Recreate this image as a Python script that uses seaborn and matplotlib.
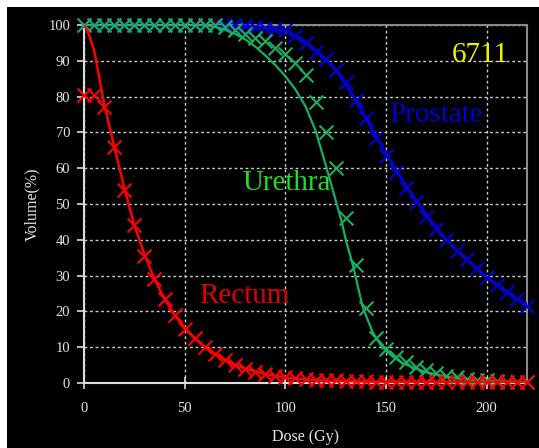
import numpy as np
import matplotlib
matplotlib.use("Agg")
import matplotlib.pyplot as plt
import seaborn as sns
from matplotlib.patches import Rectangle

# measured points (markers), every 5 Gy
dose = list(range(0, 225, 5))

prostate_pts = [100, 100, 100, 100, 100, 100, 100, 100, 100, 100, 100, 100, 100, 100, 100, 100,
                99.8, 99.5, 99.2, 99, 98.5, 97, 95, 92.5, 90.5, 87.5, 84, 79, 74, 68.5,
                63.5, 59, 54.5, 50.5, 46.5, 43, 40, 37, 34.5, 32, 29.5, 27.5, 25.5, 23.5, 21.5]
urethra_pts = [100, 100, 100, 100, 100, 100, 100, 100, 100, 100, 100, 100, 100, 100, 99.5,
               98.5, 97.5, 96.5, 95.5, 93.5, 92, 89.5, 86, 78.6, 70, 60, 46, 33, 21, 12.5,
               9.5, 7.3, 5.9, 4.5, 3.6, 2.8, 2, 1.7, 1.1, 0.9, 0.7, 0.5, 0.4, 0.3, 0.3]
rectum_pts = [80.5, 80.5, 77, 66, 54, 44, 35.5, 29, 23.5, 19, 15, 12.5, 10, 8, 6.5, 5, 4, 3.2,
              2.5, 2, 1.6, 1.3, 1.1, 0.9, 0.8, 0.7, 0.6, 0.5, 0.5, 0.4, 0.4, 0.3, 0.3, 0.3,
              0.3, 0.2, 0.2, 0.2, 0.2, 0.2, 0.2, 0.2, 0.2, 0.2, 0.2]

# calculated curves (lines)
prostate_line_x = [0, 70, 80, 90, 100, 105, 110, 115, 120, 125, 130, 135, 140, 145, 150, 155,
                   160, 165, 170, 175, 180, 185, 190, 195, 200, 205, 210, 215, 220]
prostate_line_y = [100, 100, 99.7, 99.2, 98.3, 97, 95.3, 93, 90.5, 87.5, 83.5, 79, 74, 69,
                   64, 59.5, 55, 51, 47, 43.5, 40, 37, 34.5, 32, 29.5, 27.5, 25.5, 23.5, 22]
urethra_line_x = [0, 60, 65, 70, 75, 80, 85, 90, 95, 100, 105, 110, 115, 120, 125, 128, 130,
                  133.5, 138.5, 143.5, 148, 153, 158, 165, 170, 180, 190, 200, 210, 220]
urethra_line_y = [100, 100, 99.5, 98.7, 97.5, 96, 94, 91.5, 88.8, 85.7, 82, 77.3, 70.5, 61,
                  51, 45, 40, 33, 21, 14, 10, 7.5, 5.6, 4, 3, 1.8, 1, 0.6, 0.4, 0.3]
rectum_line_x = [0, 2, 5, 10, 15, 20, 25, 30, 35, 40, 45, 50, 55, 60, 65, 70, 75, 80, 85, 90,
                 95, 100, 110, 120, 140, 160, 190, 220]
rectum_line_y = [100, 98, 93, 78, 66, 54.5, 44, 36, 29, 23.5, 19, 15.5, 12.5, 10, 8, 6.5, 5,
                 4, 3.2, 2.5, 2, 1.5, 1, 0.7, 0.4, 0.3, 0.2, 0.1]

blue = "#0000D0"
green = "#18B060"
red = "#FF0000"

sns.set_style("dark")
plt.rcParams['font.family'] = ['Liberation Serif', 'DejaVu Serif']

fig = plt.figure(figsize=(5.39, 4.48), dpi=100, facecolor="white")
fig.patches.append(Rectangle((7 / 539, 0), 1, 1 - 7 / 448, transform=fig.transFigure,
                             facecolor="black", edgecolor="none", zorder=-5))
ax = fig.add_axes([84 / 539, 1 - 383 / 448, (527 - 84) / 539, (383 - 25) / 448])
ax.set_facecolor("black")

mk = dict(marker="x", s=100, linewidth=1.5, ax=ax, legend=False, clip_on=False)
sns.lineplot(x=prostate_line_x, y=prostate_line_y, color=blue, lw=2.2, ax=ax, zorder=3)
sns.scatterplot(x=dose, y=prostate_pts, color=blue, zorder=3, **mk)
sns.lineplot(x=urethra_line_x, y=urethra_line_y, color=green, lw=1.6, ax=ax, zorder=4)
sns.scatterplot(x=dose, y=urethra_pts, color=green, zorder=4, **mk)
sns.lineplot(x=rectum_line_x, y=rectum_line_y, color=red, lw=1.8, ax=ax, zorder=5)
sns.scatterplot(x=dose, y=rectum_pts, color=red, zorder=5, **mk)

ax.set_xlim(0, 220)
ax.set_ylim(0, 100)
ax.set_xticks([0, 50, 100, 150, 200])
ax.set_yticks(range(0, 101, 10))
ax.grid(True, color="#CCCCCC", linestyle=(0, (2, 2)), linewidth=1)

for side in ["top", "right"]:
    ax.spines[side].set_color("#8A8A8A")
    ax.spines[side].set_linewidth(1.5)
for side in ["left", "bottom"]:
    ax.spines[side].set_color("#DDDDDD")
    ax.spines[side].set_linewidth(1.5)
    ax.spines[side].set_zorder(2)

ax.tick_params(axis="x", direction="inout", length=8, width=1.2, color="#DDDDDD",
               labelcolor="#E6E6E6", labelsize=10.5, pad=10, bottom=True)
ax.tick_params(axis="y", direction="out", length=5, width=1.2, color="#DDDDDD",
               labelcolor="#E6E6E6", labelsize=10.5, pad=5, left=True)

ax.set_xlabel("Dose (Gy)", color="#E6E6E6", fontsize=11.5, labelpad=10)
ax.set_ylabel("Volume(%)", color="#E6E6E6", fontsize=11.5, labelpad=6)

ax.text(197, 91.6, "6711", color="#F0F000", fontsize=21, ha="center", va="center", zorder=6)
ax.text(174.7, 74.9, "Prostate", color="#0000C8", fontsize=21, ha="center", va="center", zorder=6)
ax.text(100.7, 55.9, "Urethra", color="#22DD22", fontsize=21, ha="center", va="center", zorder=6)
ax.text(79.4, 24.3, "Rectum", color="#E00000", fontsize=21, ha="center", va="center", zorder=6)

fig.savefig("out.png", dpi=100, facecolor=fig.get_facecolor())
